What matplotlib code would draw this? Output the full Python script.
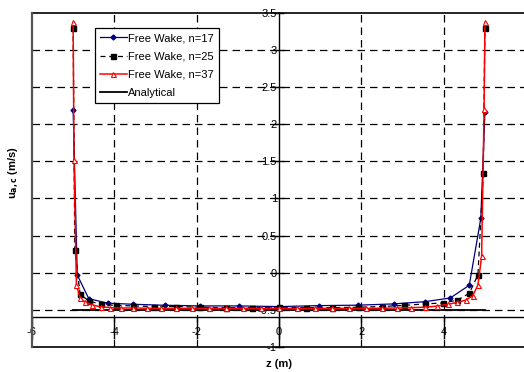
import matplotlib
matplotlib.use('Agg')
import matplotlib.pyplot as plt

plt.rcParams['font.family'] = ['Liberation Sans', 'DejaVu Sans']
plt.rcParams['axes.unicode_minus'] = False

# spanwise stations and induced axial velocity for each wake discretisation
z_n17 = [-5.00, -4.90, -4.62, -4.16, -3.54, -2.78, -1.91, -0.98, 0.00,
         0.98, 1.91, 2.78, 3.54, 4.16, 4.62, 4.90, 5.00]
u_n17 = [2.19, -0.03, -0.35, -0.41, -0.425, -0.438, -0.447, -0.447, -0.456,
         -0.443, -0.437, -0.42, -0.39, -0.34, -0.169, 0.73, 2.16]

z_n25 = [-5.00, -4.96, -4.83, -4.62, -4.33, -3.97, -3.54, -3.04, -2.50, -1.91,
         -1.29, -0.65, 0.00, 0.65, 1.29, 1.91, 2.50, 3.04, 3.54, 3.97,
         4.33, 4.62, 4.83, 4.96, 5.00]
u_n25 = [3.30, 0.31, -0.29, -0.38, -0.425, -0.44, -0.447, -0.455, -0.455, -0.465,
         -0.47, -0.47, -0.465, -0.47, -0.47, -0.465, -0.455, -0.44, -0.42, -0.407,
         -0.37, -0.277, -0.03, 1.34, 3.30]

z_n37 = [-5.00, -4.98, -4.92, -4.83, -4.70, -4.53, -4.33, -4.10, -3.83, -3.54,
         -3.21, -2.87, -2.50, -2.11, -1.71, -1.29, -0.87, -0.44, 0.00,
         0.44, 0.87, 1.29, 1.71, 2.11, 2.50, 2.87, 3.21, 3.54, 3.83,
         4.10, 4.33, 4.53, 4.70, 4.83, 4.92, 4.98, 5.00]
u_n37 = [3.37, 1.52, -0.165, -0.34, -0.40, -0.435, -0.46, -0.47, -0.475, -0.475,
         -0.478, -0.48, -0.48, -0.48, -0.48, -0.48, -0.48, -0.48, -0.48,
         -0.48, -0.48, -0.48, -0.48, -0.48, -0.478, -0.475, -0.47, -0.465, -0.45,
         -0.425, -0.40, -0.37, -0.31, -0.17, 0.22, 2.20, 3.37]

z_analytical = [-5.0, 5.0]
u_analytical = [-0.5, -0.5]

x_ticks = [-6, -4, -2, 0, 2, 4, 6]
y_ticks = [-1, -0.5, 0, 0.5, 1, 1.5, 2, 2.5, 3, 3.5]
y_tick_labels = ['-1', '-0.5', '0', '0.5', '1', '1.5', '2', '2.5', '3', '3.5']

fig = plt.figure(figsize=(5.24, 3.72), dpi=100)
ax = fig.add_axes([0.061, 0.0672, 0.943, 0.8987])
ax.set_xlim(-6, 6)
ax.set_ylim(-1, 3.5)

# dashed grid, skipping the lines that coincide with axes / frame
for x in [-4, -2, 2, 4]:
    ax.axvline(x, color='black', lw=0.9, ls=(0, (6, 4)), zorder=1)
for y in [-0.5, 0, 0.5, 1, 1.5, 2, 2.5, 3]:
    ax.axhline(y, color='black', lw=0.9, ls=(0, (6, 4)), zorder=1)

ax.plot(z_n17, u_n17, color='#000080', lw=0.9, marker='D', ms=2.5,
        label='Free Wake, n=17', zorder=3)
ax.plot(z_n25, u_n25, color='black', lw=0.9, ls=(0, (4, 3)), marker='s', ms=3.6,
        label='Free Wake, n=25', zorder=4)
ax.plot(z_n37, u_n37, color='red', lw=1.1, marker='^', ms=3.6, mfc='white',
        mec='red', mew=0.8, label='Free Wake, n=37', zorder=5)
ax.plot(z_analytical, u_analytical, color='black', lw=1.3,
        label='Analytical', zorder=2)

# axes cross inside the plot area
ax.spines['left'].set_position(('data', 0))
ax.spines['bottom'].set_position(('data', -0.6))
ax.spines['right'].set_visible(False)
ax.spines['top'].set_visible(False)
ax.spines['left'].set_linewidth(1.0)
ax.spines['bottom'].set_linewidth(1.0)

# outer frame of the plot area
ax.plot([-6, 6], [3.5, 3.5], color='black', lw=1.2, clip_on=False, zorder=6)
ax.plot([-6, 6], [-1, -1], color='black', lw=1.2, clip_on=False, zorder=6)
ax.plot([-6, -6], [-1, 3.5], color='#555555', lw=1.6, clip_on=False, zorder=6)

ax.set_xticks(x_ticks)
ax.set_xticklabels([str(v) for v in x_ticks])
ax.set_yticks(y_ticks)
ax.set_yticklabels(y_tick_labels)
ax.tick_params(axis='x', direction='out', length=16, width=1, pad=-9, labelsize=8)
ax.tick_params(axis='y', direction='inout', length=7, width=1, pad=-2, labelsize=8)

ax.set_xlabel('z (m)', fontweight='bold', fontsize=8)
ax.xaxis.set_label_coords(0.5, -0.035)
ax.set_ylabel(r'u$_{\mathbf{a,c}}$ (m/s)', fontweight='bold', fontsize=8)
ax.yaxis.set_label_coords(-0.022, 0.52)

leg = ax.legend(loc='upper left', bbox_to_anchor=(0.1275, 0.954), fontsize=8,
                frameon=True, fancybox=False, edgecolor='black', framealpha=1,
                handlelength=2.4, borderpad=0.45, labelspacing=0.75,
                handletextpad=0.15, borderaxespad=0)
leg.get_frame().set_linewidth(0.9)

fig.savefig('out.png', dpi=100)
